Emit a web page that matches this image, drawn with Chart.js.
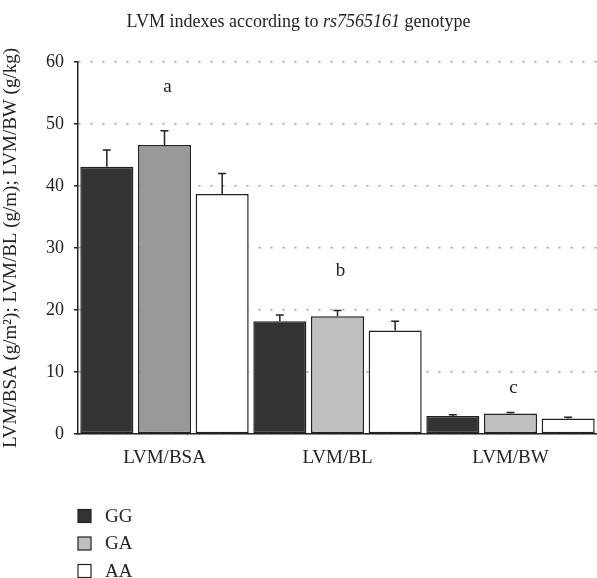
<!DOCTYPE html>
<html>
<head>
<meta charset="utf-8">
<script src="https://cdn.jsdelivr.net/npm/chart.js@4"></script>
<style>
  body { margin: 0; background: #fff; }
  #wrap { width: 597px; height: 578px; }
</style>
</head>
<body>
<div id="wrap"><canvas id="myChart" width="597" height="578"></canvas></div>
<script>
const categories = ['LVM/BSA', 'LVM/BL', 'LVM/BW']
const genotypes = ['GG', 'GA', 'AA']
const ggValues = [43.1, 18.2, 2.9]
const gaValues = [46.6, 19.0, 3.3]
const aaValues = [38.7, 16.7, 2.5]
const ggErrors = [2.7, 1.0, 0.2]
const gaErrors = [2.3, 0.9, 0.15]
const aaErrors = [3.3, 1.5, 0.2]
const groupLetters = ['a', 'b', 'c']
const letterValues = [56.0, 26.3, 7.4]
const yTicks = [0, 10, 20, 30, 40, 50, 60]

const serif = '"Liberation Serif", "DejaVu Serif", serif'
const ink = '#222'

// the GA bar of the first group is drawn darker in the original
const gaFill = ['#999999', '#c0c0c0', '#c0c0c0']
const legendFill = ['#333333', '#c0c0c0', '#ffffff']

const errorBars = {
  id: 'errorBars',
  afterDatasetsDraw(chart) {
    const { ctx, scales: { y } } = chart
    ctx.save()
    ctx.strokeStyle = ink
    ctx.lineWidth = 1.5
    chart.data.datasets.forEach((ds, i) => {
      chart.getDatasetMeta(i).data.forEach((bar, j) => {
        const top = y.getPixelForValue(ds.data[j] + ds.errors[j])
        ctx.beginPath()
        ctx.moveTo(bar.x, bar.y)
        ctx.lineTo(bar.x, top)
        ctx.moveTo(bar.x - 4, top)
        ctx.lineTo(bar.x + 4, top)
        ctx.stroke()
      })
    })
    ctx.restore()
  }
}

const extras = {
  id: 'extras',
  afterDraw(chart) {
    const { ctx, scales: { x, y } } = chart
    ctx.save()
    ctx.fillStyle = ink

    // group letters
    ctx.font = '19px ' + serif
    ctx.textAlign = 'center'
    ctx.textBaseline = 'middle'
    groupLetters.forEach((l, i) => {
      ctx.fillText(l, x.getPixelForValue(i) + 3, y.getPixelForValue(letterValues[i]))
    })

    // title with italic part
    const parts = [
      ['LVM indexes according to ', '18px ' + serif],
      ['rs7565161', 'italic 18px ' + serif],
      [' genotype', '18px ' + serif]
    ]
    let w = 0
    parts.forEach(p => { ctx.font = p[1]; w += ctx.measureText(p[0]).width })
    let tx = chart.width / 2 - w / 2
    ctx.textAlign = 'left'
    ctx.textBaseline = 'alphabetic'
    parts.forEach(p => {
      ctx.font = p[1]
      ctx.fillText(p[0], tx, 27)
      tx += ctx.measureText(p[0]).width
    })

    // legend
    ctx.font = '19px ' + serif
    ctx.textBaseline = 'middle'
    ctx.lineWidth = 1.2
    ctx.strokeStyle = ink
    genotypes.forEach((g, i) => {
      const cy = 516 + i * 27.5
      ctx.fillStyle = legendFill[i]
      ctx.fillRect(78, cy - 6.5, 13, 13)
      ctx.strokeRect(78, cy - 6.5, 13, 13)
      ctx.fillStyle = ink
      ctx.fillText(g, 105, cy + 1)
    })
    ctx.restore()
  }
}

const data = {
  labels: categories,
  datasets: [
    { label: 'GG', data: ggValues, errors: ggErrors, backgroundColor: '#333333' },
    { label: 'GA', data: gaValues, errors: gaErrors, backgroundColor: gaFill },
    { label: 'AA', data: aaValues, errors: aaErrors, backgroundColor: '#ffffff' }
  ].map(d => Object.assign(d, {
    borderColor: ink,
    borderWidth: 1.5,
    borderSkipped: false,
    barPercentage: 0.92,
    categoryPercentage: 1.0
  }))
}

new Chart('myChart', {
  type: 'bar',
  data: data,
  plugins: [errorBars, extras],
  options: {
    responsive: false,
    animation: false,
    layout: { padding: { top: 62, left: 0, right: 0, bottom: 0 } },
    plugins: { legend: { display: false }, tooltip: { enabled: false } },
    scales: {
      x: {
        afterFit: s => { s.height = 144 },
        grid: { display: false },
        border: { color: ink, width: 1.5 },
        ticks: { color: ink, font: { family: serif, size: 19 }, padding: 5 }
      },
      y: {
        min: 0,
        max: 60,
        afterFit: s => { s.width = 78 },
        afterBuildTicks: s => { s.ticks = yTicks.map(v => ({ value: v })) },
        grid: {
          color: '#9a9a9a',
          lineWidth: 1.5,
          tickColor: ink,
          tickLength: 4,
          tickBorderDash: []
        },
        border: { color: ink, width: 1.5, dash: [2, 10] },
        ticks: { color: ink, font: { family: serif, size: 18 }, padding: 10 },
        title: {
          display: true,
          text: 'LVM/BSA (g/m²); LVM/BL (g/m); LVM/BW (g/kg)',
          color: ink,
          font: { family: serif, size: 19 },
          padding: { top: 0, bottom: 0 }
        }
      }
    }
  }
})
</script>
</body>
</html>
